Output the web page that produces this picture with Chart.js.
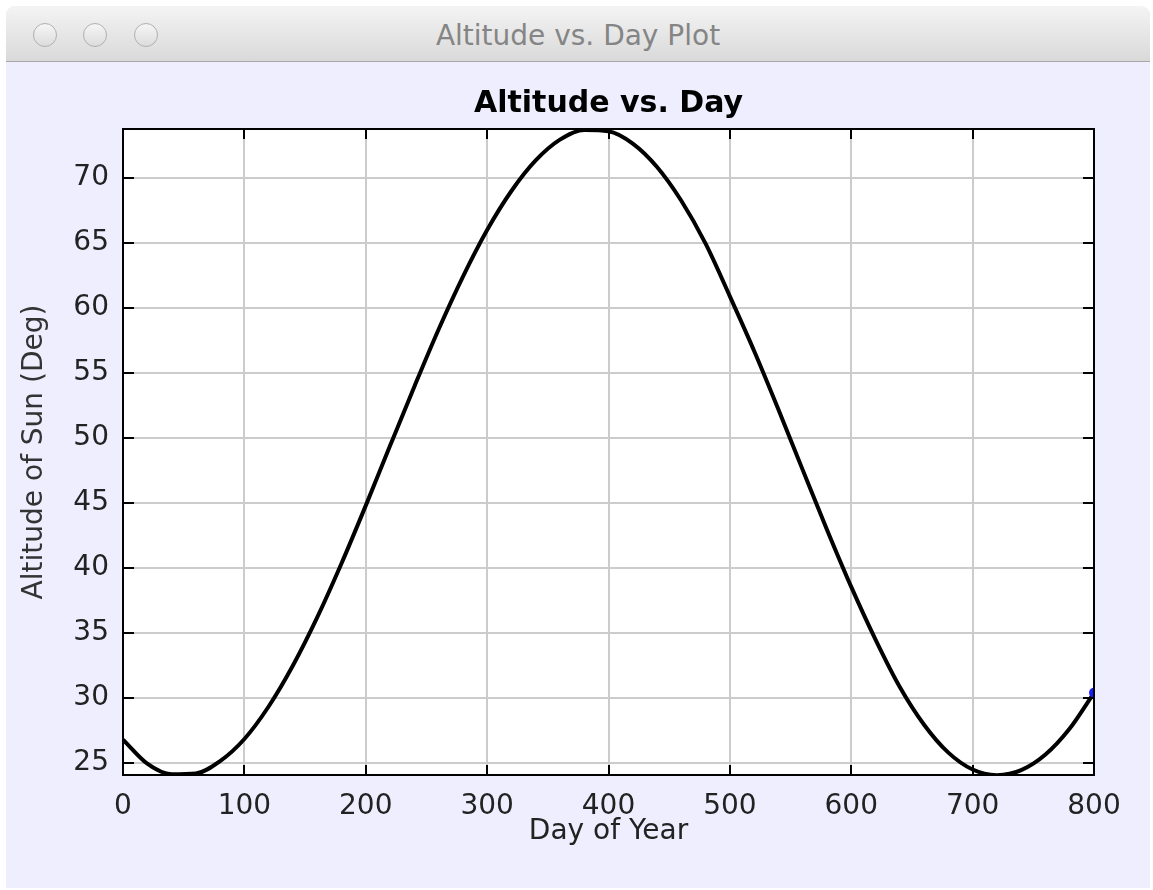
<!DOCTYPE html>
<html>
<head>
<meta charset="utf-8">
<title>Altitude vs. Day Plot</title>
<script src="https://cdn.jsdelivr.net/npm/chart.js@4.4.1/dist/chart.umd.min.js"></script>
<style>
  body { margin: 0; background: #ffffff; }
  #win { position: absolute; left: 6px; top: 6px; width: 1144px; height: 882px; background: #eeeeff; border-radius: 9px 9px 0 0; overflow: hidden; }
  #bar { height: 55px; background: linear-gradient(#f4f4f4, #d9d9d9); border-bottom: 1px solid #a8a8a8; position: relative; }
  #bar .dot { position: absolute; top: 17px; width: 22px; height: 22px; border-radius: 50%; border: 1px solid #b0b0b0; background: linear-gradient(#f6f6f6, #dcdcdc); }
  #bar .name { position: absolute; left: 0; right: 0; top: 13px; text-align: center; font: 28px "DejaVu Sans", sans-serif; color: #858585; }
  #box { position: absolute; left: 0; top: 56px; width: 1144px; height: 826px; }
</style>
</head>
<body>
<div id="win">
  <div id="bar">
    <div class="dot" style="left:27px"></div>
    <div class="dot" style="left:77px"></div>
    <div class="dot" style="left:128px"></div>
    <div class="name">Altitude vs. Day Plot</div>
  </div>
  <div id="box"><canvas id="myChart"></canvas></div>
</div>
<script>
// values
const days = [0, 20, 40, 60, 80, 100, 120, 140, 160, 180, 200, 220, 240, 260, 280, 300,
  320, 340, 360, 380, 400, 420, 440, 460, 480, 500, 520, 540, 560, 580, 600,
  620, 640, 660, 680, 700, 720, 740, 760, 780, 800];
const altitude = [26.8, 24.95, 24.14, 24.2, 25.15, 26.85, 29.35, 32.5, 36.2, 40.35, 44.8, 49.4, 53.95, 58.35, 62.4, 66.0,
  69.0, 71.35, 72.95, 73.7, 73.6, 72.65, 70.85, 68.25, 64.95, 60.9, 56.7, 52.2, 47.55, 42.95, 38.55,
  34.5, 30.85, 27.95, 25.8, 24.5, 24.07, 24.45, 25.65, 27.65, 30.4];
const xTicks = [0, 100, 200, 300, 400, 500, 600, 700, 800];
const yTicks = [25, 30, 35, 40, 45, 50, 55, 60, 65, 70];

const points = days.map(function (d, i) { return { x: d, y: altitude[i] }; });
const lastIdx = points.length - 1;

// white plot background, black frame and inward tick marks
const frame = {
  id: 'frame',
  beforeDraw: function (chart) {
    const a = chart.chartArea, c = chart.ctx;
    c.save();
    c.fillStyle = '#ffffff';
    c.fillRect(a.left, a.top, a.right - a.left, a.bottom - a.top);
    c.restore();
  },
  afterDraw: function (chart) {
    const a = chart.chartArea, c = chart.ctx;
    const xs = chart.scales.x, ys = chart.scales.y;
    c.save();
    c.strokeStyle = '#000000';
    c.lineWidth = 2;
    c.beginPath();
    xTicks.forEach(function (t) {
      const px = Math.round(xs.getPixelForValue(t));
      c.moveTo(px, a.top); c.lineTo(px, a.top + 10);
      c.moveTo(px, a.bottom); c.lineTo(px, a.bottom - 10);
    });
    yTicks.forEach(function (t) {
      const py = Math.round(ys.getPixelForValue(t));
      c.moveTo(a.left, py); c.lineTo(a.left + 11, py);
      c.moveTo(a.right, py); c.lineTo(a.right - 11, py);
    });
    c.stroke();
    c.strokeRect(a.left, a.top, a.right - a.left, a.bottom - a.top);
    c.restore();
  }
};

const config = {
  type: 'line',
  data: {
    datasets: [{
      data: points,
      borderColor: '#000000',
      borderWidth: 4,
      cubicInterpolationMode: 'monotone',
      pointRadius: function (ctx) { return ctx.dataIndex === lastIdx ? 5 : 0; },
      pointBackgroundColor: '#1a1aff',
      pointBorderWidth: 0
    }]
  },
  plugins: [frame],
  options: {
    responsive: true,
    maintainAspectRatio: false,
    animation: false,
    events: [],
    layout: { padding: { left: 0, right: 56, top: 0, bottom: 0 } },
    plugins: {
      legend: { display: false },
      tooltip: { enabled: false },
      title: {
        display: true,
        text: 'Altitude vs. Day',
        fullSize: false,
        color: '#000000',
        font: { family: 'DejaVu Sans', size: 30, weight: 'bold' },
        padding: { top: 24, bottom: 7 }
      }
    },
    scales: {
      x: {
        type: 'linear',
        min: 0,
        max: 800,
        afterFit: function (s) { s.height = 113; },
        ticks: {
          stepSize: 100,
          includeBounds: false,
          padding: 15,
          color: '#222222',
          font: { family: 'DejaVu Sans', size: 28 }
        },
        grid: { color: '#cccccc', lineWidth: 2, drawTicks: false },
        border: { display: false },
        title: {
          display: true,
          text: 'Day of Year',
          color: '#222222',
          font: { family: 'DejaVu Sans', size: 28 },
          padding: { top: 0, bottom: 39 }
        }
      },
      y: {
        type: 'linear',
        min: 24.08,
        max: 73.77,
        afterFit: function (s) { s.width = 117; },
        ticks: {
          stepSize: 5,
          includeBounds: false,
          padding: 14,
          color: '#222222',
          font: { family: 'DejaVu Sans', size: 28 }
        },
        grid: { color: '#cccccc', lineWidth: 2, drawTicks: false },
        border: { display: false },
        title: {
          display: true,
          text: 'Altitude of Sun (Deg)',
          color: '#333333',
          font: { family: 'DejaVu Sans', size: 28 },
          padding: { top: 12, bottom: 0 }
        }
      }
    }
  }
};

const myChart = new Chart(document.getElementById('myChart'), config);
</script>
</body>
</html>
